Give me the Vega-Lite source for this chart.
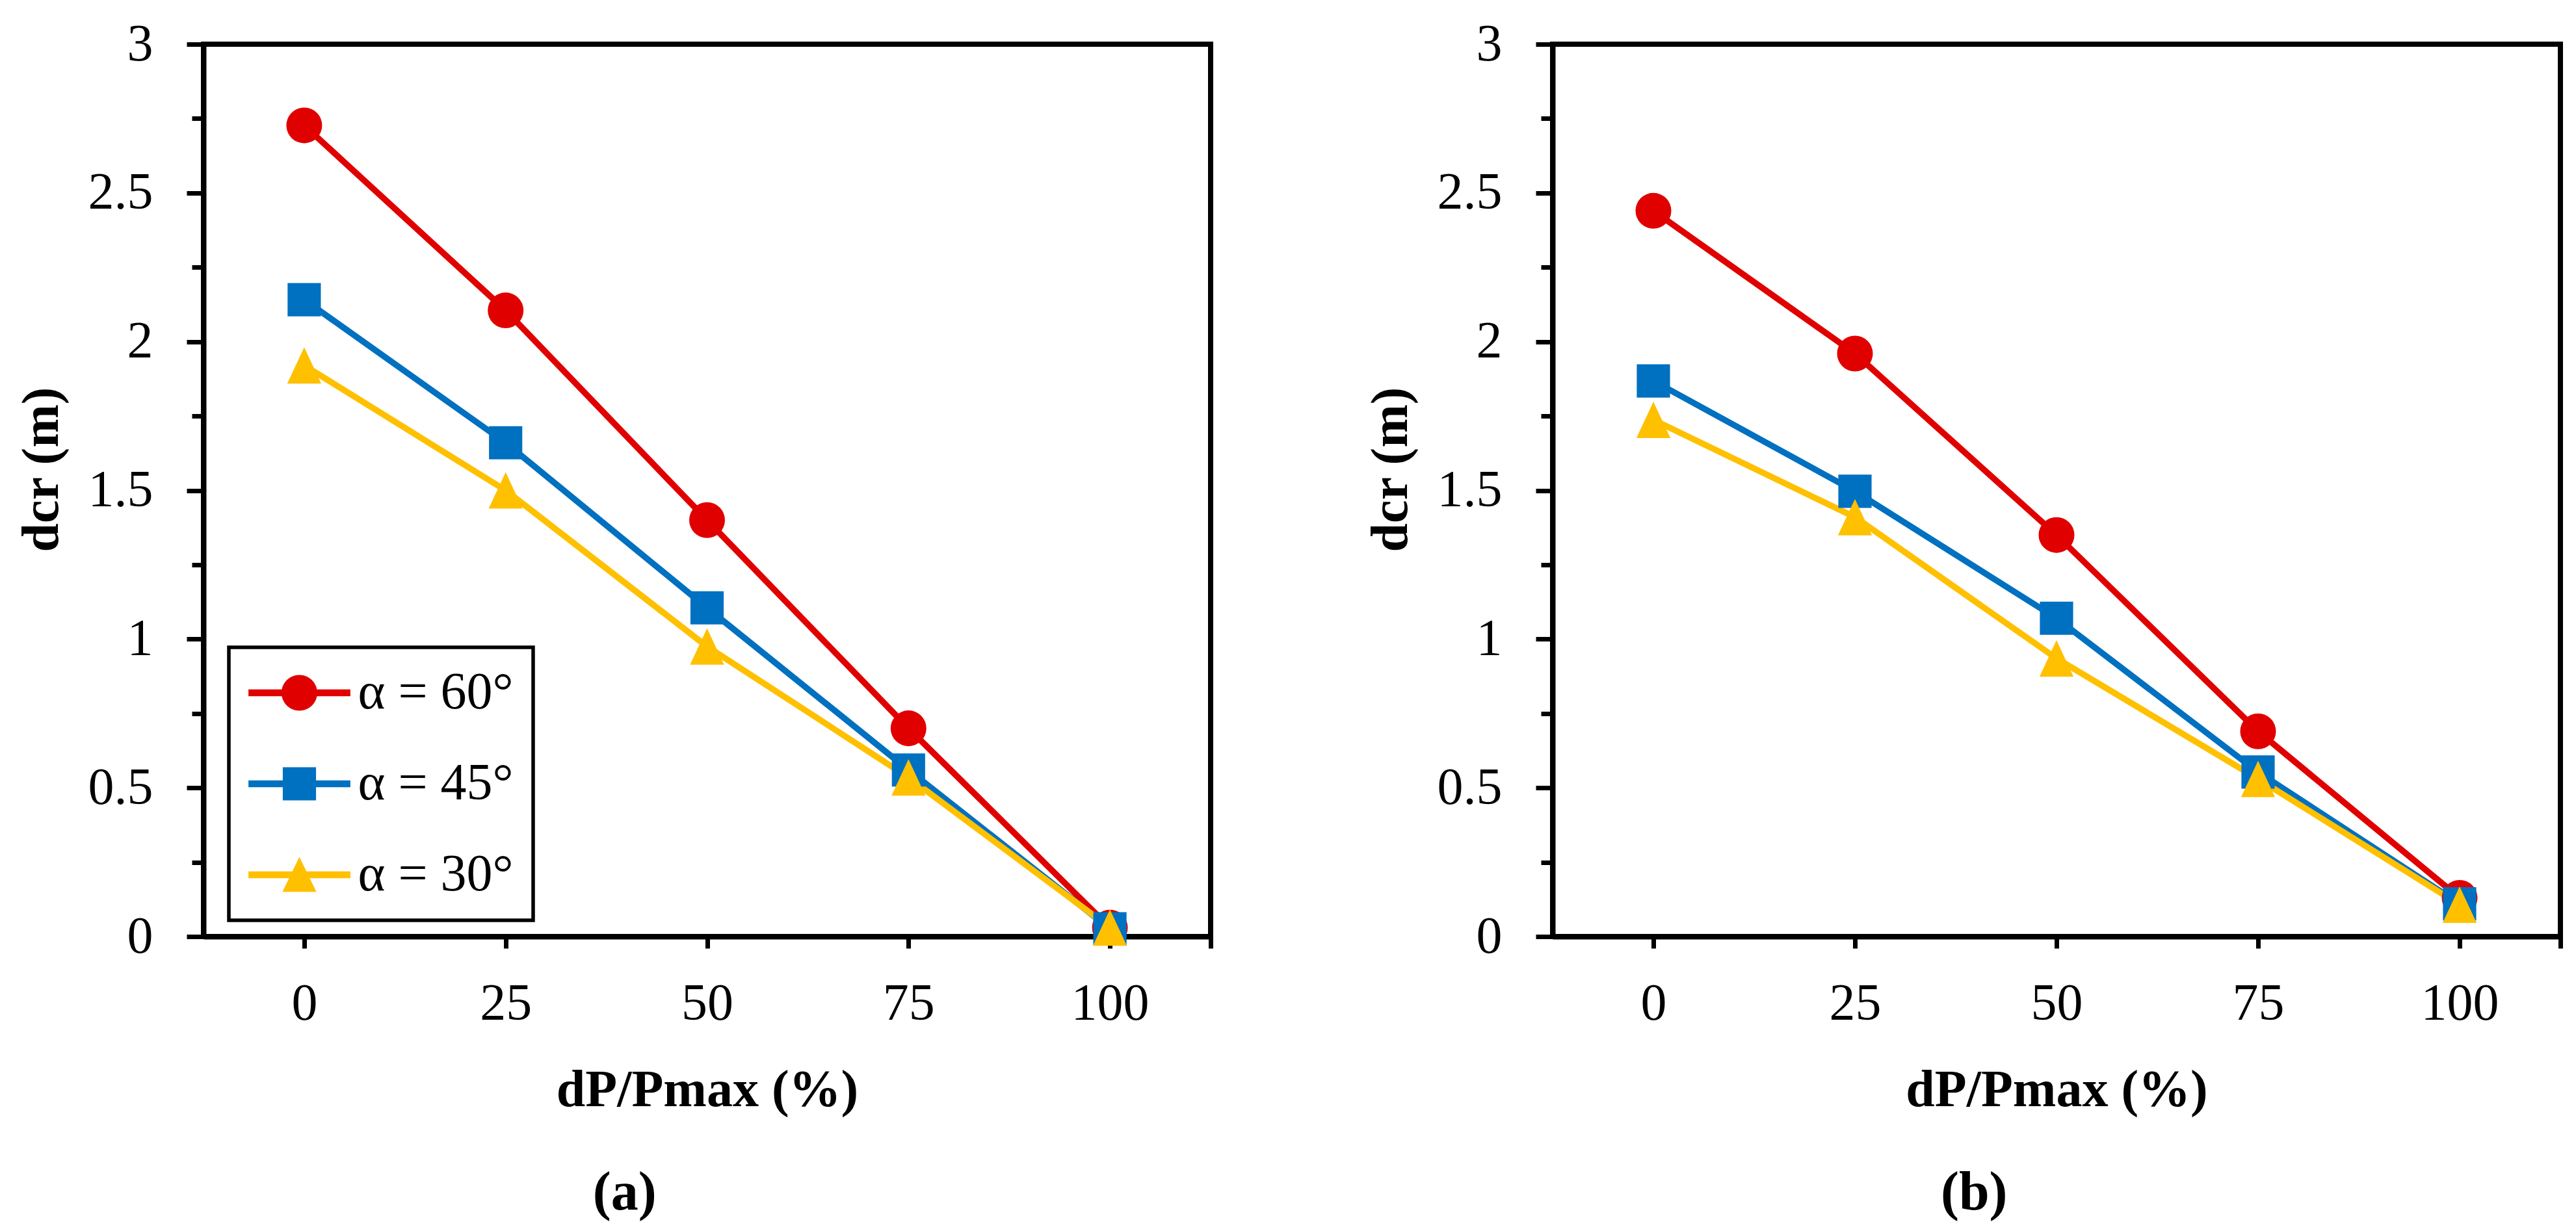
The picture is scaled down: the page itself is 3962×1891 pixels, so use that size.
{
  "$schema": "https://vega.github.io/schema/vega-lite/v6.json",
  "background": "white",
  "padding": {"left": 20, "top": 24, "right": 20, "bottom": 10},
  "datasets": {
    "a": [
      {"series": "α = 60°", "x": 0, "y": 2.727},
      {"series": "α = 60°", "x": 25, "y": 2.105},
      {"series": "α = 60°", "x": 50, "y": 1.40},
      {"series": "α = 60°", "x": 75, "y": 0.70},
      {"series": "α = 60°", "x": 100, "y": 0.03},
      {"series": "α = 45°", "x": 0, "y": 2.141},
      {"series": "α = 45°", "x": 25, "y": 1.66},
      {"series": "α = 45°", "x": 50, "y": 1.105},
      {"series": "α = 45°", "x": 75, "y": 0.56},
      {"series": "α = 45°", "x": 100, "y": 0.026},
      {"series": "α = 30°", "x": 0, "y": 1.92},
      {"series": "α = 30°", "x": 25, "y": 1.50},
      {"series": "α = 30°", "x": 50, "y": 0.975},
      {"series": "α = 30°", "x": 75, "y": 0.535},
      {"series": "α = 30°", "x": 100, "y": 0.03}
    ],
    "b": [
      {"series": "α = 60°", "x": 0, "y": 2.44},
      {"series": "α = 60°", "x": 25, "y": 1.96},
      {"series": "α = 60°", "x": 50, "y": 1.35},
      {"series": "α = 60°", "x": 75, "y": 0.69},
      {"series": "α = 60°", "x": 100, "y": 0.13},
      {"series": "α = 45°", "x": 0, "y": 1.868},
      {"series": "α = 45°", "x": 25, "y": 1.497},
      {"series": "α = 45°", "x": 50, "y": 1.07},
      {"series": "α = 45°", "x": 75, "y": 0.553},
      {"series": "α = 45°", "x": 100, "y": 0.11},
      {"series": "α = 30°", "x": 0, "y": 1.737},
      {"series": "α = 30°", "x": 25, "y": 1.41},
      {"series": "α = 30°", "x": 50, "y": 0.935},
      {"series": "α = 30°", "x": 75, "y": 0.53},
      {"series": "α = 30°", "x": 100, "y": 0.107}
    ]
  },
  "bounds": "flush",
  "spacing": 526,
  "resolve": {
    "scale": {"color": "independent", "shape": "independent"},
    "legend": {"color": "independent", "shape": "independent"}
  },
  "hconcat": [
    {
      "data": {"name": "a"},
      "width": 1549,
      "height": 1373,
      "title": {"text": "(a)", "orient": "bottom", "frame": "bounds", "anchor": "middle", "offset": 78, "fontSize": 84, "font": "Liberation Serif", "fontWeight": "bold", "color": "black", "dx": 16},
      "encoding": {
        "x": {
          "field": "x", "type": "quantitative",
          "scale": {"domain": [-12.5, 112.5], "nice": false, "zero": false},
          "axis": {
            "title": "dP/Pmax (%)",
            "values": [0, 25, 50, 75, 100, 112.5],
            "labelExpr": "datum.value > 100 ? '' : datum.label",
            "tickSize": 18,
            "labelPadding": 46,
            "titlePadding": 54
          }
        },
        "y": {
          "field": "y", "type": "quantitative",
          "scale": {"domain": [0, 3], "nice": false, "zero": false},
          "axis": {
            "title": "dcr (m)",
            "values": [0, 0.25, 0.5, 0.75, 1, 1.25, 1.5, 1.75, 2, 2.25, 2.5, 2.75, 3],
            "labelExpr": "datum.value % 0.5 === 0 ? format(datum.value, '~g') : ''",
            "tickSize": {"condition": {"test": "datum.value % 0.5 === 0", "value": 26}, "value": 18},
            "labelPadding": 52,
            "titlePadding": 30,
            "titleY": 654
          }
        }
      },
      "layer": [
        {
          "transform": [{"filter": {"field": "series", "equal": "α = 60°"}}],
          "mark": {"type": "line", "strokeWidth": 9.5, "color": "#E00000"}
        },
        {
          "transform": [{"filter": {"field": "series", "equal": "α = 45°"}}],
          "mark": {"type": "line", "strokeWidth": 9.5, "color": "#0070C0"}
        },
        {
          "transform": [{"filter": {"field": "series", "equal": "α = 30°"}}],
          "mark": {"type": "line", "strokeWidth": 9.5, "color": "#FFC000"}
        },
        {
          "transform": [{"filter": {"field": "series", "equal": "α = 60°"}}],
          "mark": {"type": "point", "shape": "circle", "filled": true, "size": 3025, "color": "#E00000", "opacity": 1}
        },
        {
          "transform": [{"filter": {"field": "series", "equal": "α = 45°"}}],
          "mark": {"type": "point", "shape": "M-0.93,-0.93H0.93V0.93H-0.93Z", "filled": true, "size": 3025, "color": "#0070C0", "opacity": 1}
        },
        {
          "transform": [{"filter": {"field": "series", "equal": "α = 30°"}}],
          "mark": {"type": "point", "shape": "M0,-1.02L0.95,1.02H-0.95Z", "filled": true, "size": 3025, "color": "#FFC000", "opacity": 1}
        },
        {
          "mark": {"type": "point", "filled": true, "fillOpacity": 0, "strokeOpacity": 0, "size": 3025},
          "encoding": {
            "color": {
              "field": "series", "type": "nominal",
              "scale": {"domain": ["α = 60°", "α = 45°", "α = 30°"], "range": ["#E00000", "#0070C0", "#FFC000"]},
              "legend": {"title": null, "orient": "none", "legendX": 39, "legendY": 928, "padding": 30, "strokeColor": "black", "fillColor": "white", "symbolSize": 3025, "symbolStrokeWidth": 0, "symbolOffset": 38.5, "labelOffset": 50, "rowPadding": 60, "labelFont": "Liberation Serif", "labelFontSize": 80, "labelColor": "black", "labelLimit": 1000, "symbolOpacity": 1}
            },
            "shape": {
              "field": "series", "type": "nominal",
              "scale": {"domain": ["α = 60°", "α = 45°", "α = 30°"], "range": [
                "M-2.85,-0.19H2.85V0.19H-2.85Z M-1,0A1,1 0 1,1 1,0A1,1 0 1,1 -1,0Z",
                "M-2.85,-0.19H2.85V0.19H-2.85Z M-0.93,-0.93H0.93V0.93H-0.93Z",
                "M-2.85,-0.19H2.85V0.19H-2.85Z M0,-1.0L0.95,0.95H-0.95Z"
              ]},
              "legend": {"title": null, "orient": "none", "legendX": 39, "legendY": 928, "padding": 30, "strokeColor": "black", "fillColor": "white", "symbolSize": 3025, "symbolStrokeWidth": 0, "symbolOffset": 38.5, "labelOffset": 50, "rowPadding": 60, "labelFont": "Liberation Serif", "labelFontSize": 80, "labelColor": "black", "labelLimit": 1000, "symbolOpacity": 1}
            }
          }
        }
      ]
    },
    {
      "data": {"name": "b"},
      "width": 1550,
      "height": 1373,
      "title": {"text": "(b)", "orient": "bottom", "frame": "bounds", "anchor": "middle", "offset": 78, "fontSize": 84, "font": "Liberation Serif", "fontWeight": "bold", "color": "black", "dx": 16},
      "encoding": {
        "x": {
          "field": "x", "type": "quantitative",
          "scale": {"domain": [-12.5, 112.5], "nice": false, "zero": false},
          "axis": {
            "title": "dP/Pmax (%)",
            "values": [0, 25, 50, 75, 100, 112.5],
            "labelExpr": "datum.value > 100 ? '' : datum.label",
            "tickSize": 18,
            "labelPadding": 46,
            "titlePadding": 54
          }
        },
        "y": {
          "field": "y", "type": "quantitative",
          "scale": {"domain": [0, 3], "nice": false, "zero": false},
          "axis": {
            "title": "dcr (m)",
            "values": [0, 0.25, 0.5, 0.75, 1, 1.25, 1.5, 1.75, 2, 2.25, 2.5, 2.75, 3],
            "labelExpr": "datum.value % 0.5 === 0 ? format(datum.value, '~g') : ''",
            "tickSize": {"condition": {"test": "datum.value % 0.5 === 0", "value": 26}, "value": 18},
            "labelPadding": 52,
            "titlePadding": 30,
            "titleY": 654
          }
        }
      },
      "layer": [
        {
          "transform": [{"filter": {"field": "series", "equal": "α = 60°"}}],
          "mark": {"type": "line", "strokeWidth": 9.5, "color": "#E00000"}
        },
        {
          "transform": [{"filter": {"field": "series", "equal": "α = 45°"}}],
          "mark": {"type": "line", "strokeWidth": 9.5, "color": "#0070C0"}
        },
        {
          "transform": [{"filter": {"field": "series", "equal": "α = 30°"}}],
          "mark": {"type": "line", "strokeWidth": 9.5, "color": "#FFC000"}
        },
        {
          "transform": [{"filter": {"field": "series", "equal": "α = 60°"}}],
          "mark": {"type": "point", "shape": "circle", "filled": true, "size": 3025, "color": "#E00000", "opacity": 1}
        },
        {
          "transform": [{"filter": {"field": "series", "equal": "α = 45°"}}],
          "mark": {"type": "point", "shape": "M-0.93,-0.93H0.93V0.93H-0.93Z", "filled": true, "size": 3025, "color": "#0070C0", "opacity": 1}
        },
        {
          "transform": [{"filter": {"field": "series", "equal": "α = 30°"}}],
          "mark": {"type": "point", "shape": "M0,-1.02L0.95,1.02H-0.95Z", "filled": true, "size": 3025, "color": "#FFC000", "opacity": 1}
        }
      ]
    }
  ],
  "config": {
    "font": "Liberation Serif",
    "view": {"stroke": "black", "strokeWidth": 8},
    "axis": {
      "domainColor": "black", "domainWidth": 8,
      "tickColor": "black", "tickWidth": 7,
      "labelFont": "Liberation Serif", "labelFontSize": 80, "labelColor": "black",
      "titleFont": "Liberation Serif", "titleFontSize": 80, "titleFontWeight": "bold", "titleColor": "black",
      "grid": false, "labelFlush": false, "labelOverlap": false
    },
    "legend": {"strokeWidth": 5.5}
  }
}
